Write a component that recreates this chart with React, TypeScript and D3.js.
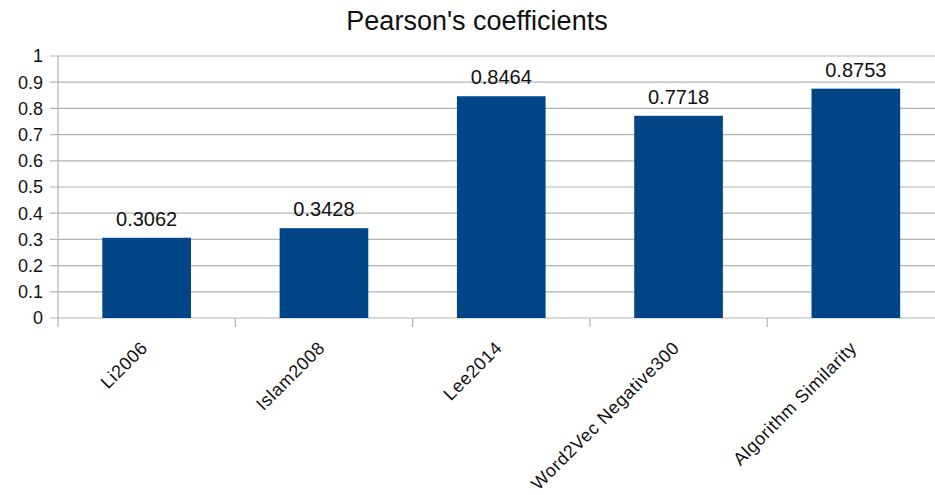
import React from "react";
import * as d3 from "d3";

const categories = ["Li2006", "Islam2008", "Lee2014", "Word2Vec Negative300", "Algorithm Similarity"];
const values = [0.3062, 0.3428, 0.8464, 0.7718, 0.8753];
const yTicks = [0, 0.1, 0.2, 0.3, 0.4, 0.5, 0.6, 0.7, 0.8, 0.9, 1];
const title = "Pearson's coefficients";

const W = 935;
const H = 495;
const left = 58;
const right = 944.5;
const top = 56;
const bottom = 318;

export default function App() {
  const x = d3.scaleBand<string>().domain(categories).range([left, right]).paddingInner(0.5).paddingOuter(0.25);
  const xb = d3.scaleBand<string>().domain(categories).range([left, right]);
  const y = d3.scaleLinear().domain([0, 1]).range([bottom, top]);
  const font = "'Liberation Sans', Arial, sans-serif";
  return (
    <svg width={W} height={H} style={{ position: "absolute", left: 0, top: 0, background: "#fff" }} fontFamily={font}>
      <text x={477} y={30} textAnchor="middle" fontSize={27} fill="#111">{title}</text>
      {yTicks.map((t) => (
        <g key={t}>
          <line x1={50} x2={W} y1={y(t)} y2={y(t)} stroke="#b3b3b3" strokeWidth={1.2} />
          <text x={43} y={y(t)} dy="0.35em" textAnchor="end" fontSize={18} fill="#111">{d3.format("~g")(t)}</text>
        </g>
      ))}
      <line x1={left} x2={left} y1={top} y2={bottom + 9} stroke="#b3b3b3" strokeWidth={1.2} />
      {categories.map((c) => (
        <line key={c} x1={(xb(c) as number) + xb.bandwidth()} x2={(xb(c) as number) + xb.bandwidth()} y1={bottom} y2={bottom + 9} stroke="#b3b3b3" strokeWidth={1.2} />
      ))}
      {categories.map((c, i) => (
        <g key={c}>
          <rect x={x(c)} y={y(values[i])} width={x.bandwidth()} height={bottom - y(values[i])} fill="#004586" />
          <text x={(x(c) as number) + x.bandwidth() / 2} y={y(values[i]) - 12} textAnchor="middle" fontSize={20} fill="#111">{values[i].toFixed(4)}</text>
          <text transform={`translate(${(x(c) as number) + x.bandwidth() / 2 + 2},${bottom + 31}) rotate(-45)`} textAnchor="end" fontSize={18} letterSpacing={0.6} fill="#111">{c}</text>
        </g>
      ))}
    </svg>
  );
}
